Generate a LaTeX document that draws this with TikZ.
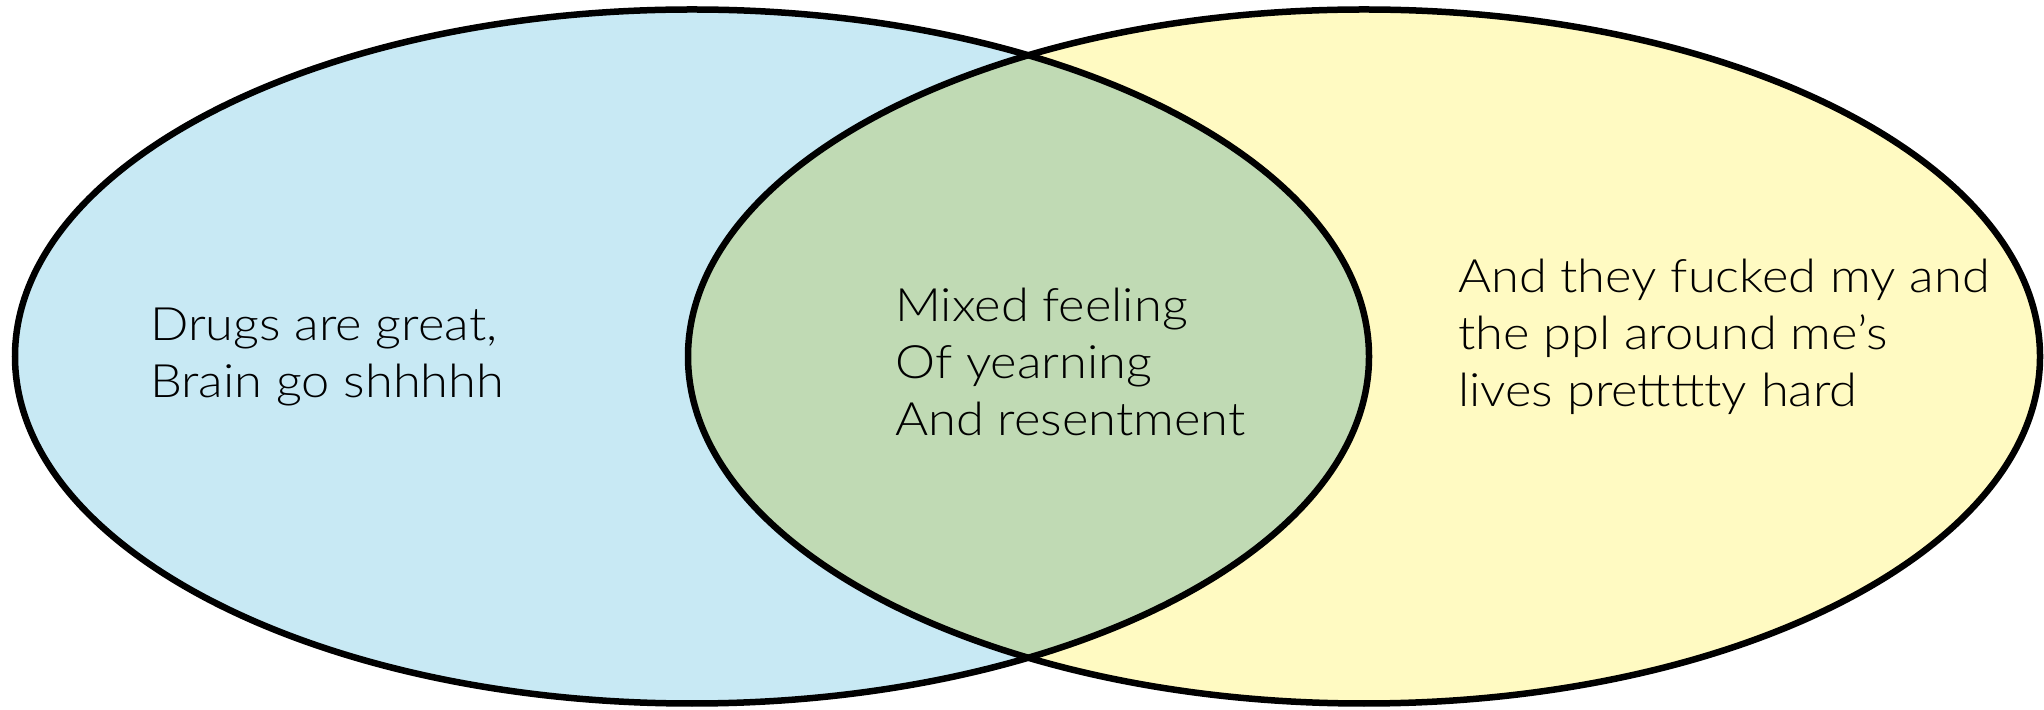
\documentclass[tikz,border=0pt]{standalone}
\usepackage{fontspec}
\setmainfont{Lato Light}[FakeStretch=1.1]
\definecolor{setblue}{HTML}{C8E9F4}
\definecolor{setyellow}{HTML}{FFFAC2}
\definecolor{setgreen}{HTML}{C0DAB4}
\begin{document}
\begin{tikzpicture}[x=1pt,y=1pt,
  outline/.style={line width=6.5pt, draw=black},
  label/.style={inner sep=0pt, align=left, anchor=base west, font=\fontsize{46}{57}\selectfont}]
\useasboundingbox (0,0) rectangle (2044,709);
\fill[setblue] (692,352.5) ellipse [x radius=677, y radius=347];
\fill[setyellow] (1364,352.5) ellipse [x radius=676, y radius=347];
\begin{scope}
  \clip (692,352.5) ellipse [x radius=677, y radius=347];
  \fill[setgreen] (1364,352.5) ellipse [x radius=676, y radius=347];
\end{scope}
\draw[outline] (692,352.5) ellipse [x radius=677, y radius=347];
\draw[outline] (1364,352.5) ellipse [x radius=676, y radius=347];
\node[label] (left) at (150,311) {Drugs are great,\\Brain go shhhhh};
\node[label] (mid) at (895,273) {Mixed feeling\\Of yearning\\And resentment};
\node[label] (right) at (1458,302) {And they fucked my and\\the ppl around me’s\\lives prettttty hard};
\end{tikzpicture}
\end{document}
